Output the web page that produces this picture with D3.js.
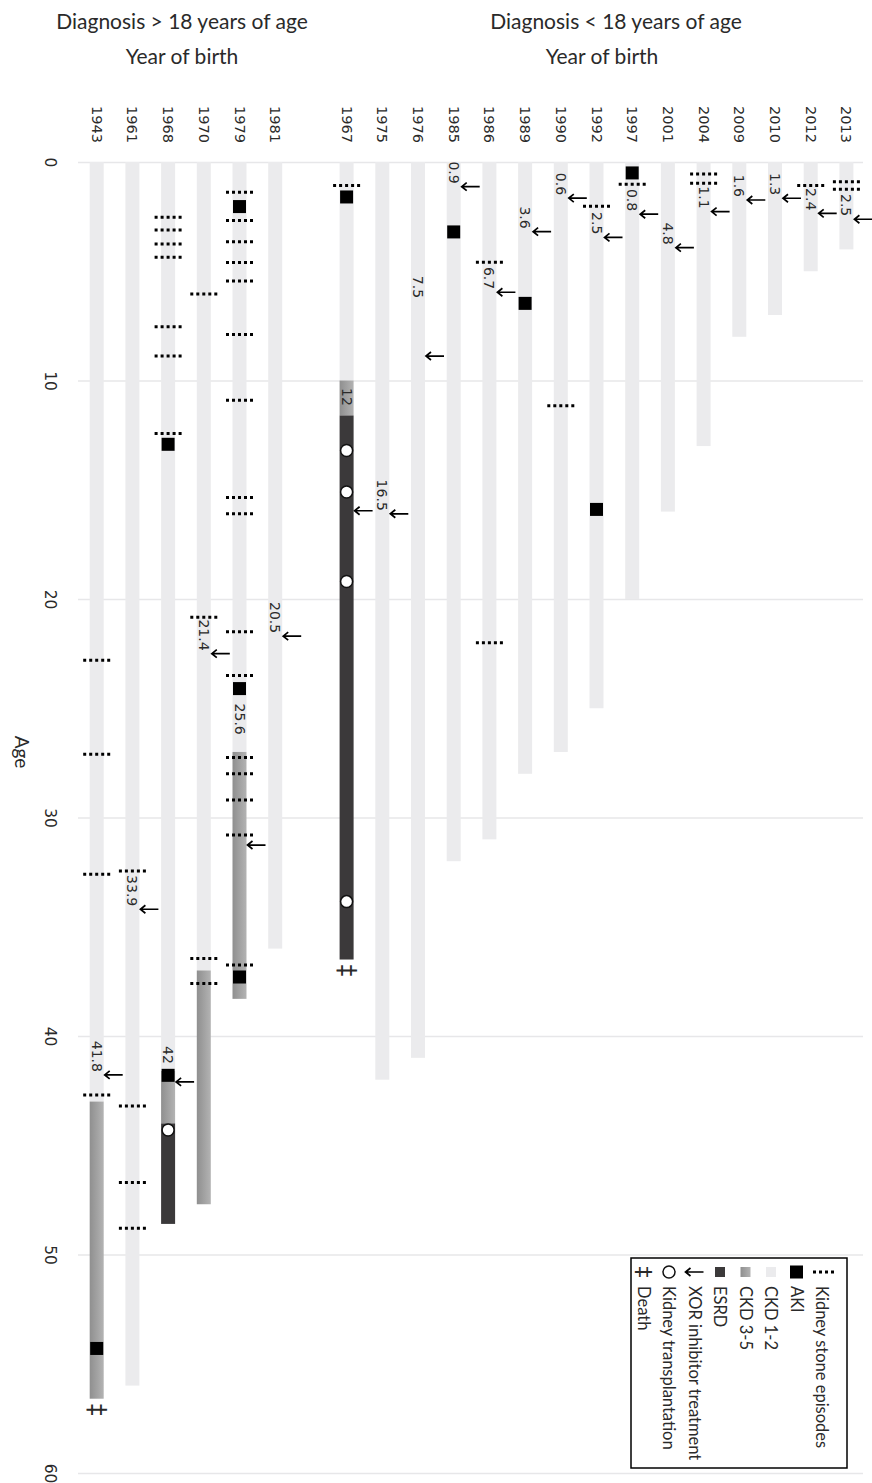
<!DOCTYPE html>
<html>
<head>
<meta charset="utf-8">
<script src="https://cdn.jsdelivr.net/npm/d3@7/dist/d3.min.js"></script>
<style>
body { margin: 0; background: #fff; }
svg text { font-family: "DejaVu Sans", sans-serif; fill: #2a2a2a; }
svg text.cal { font-family: Lato, "Open Sans", sans-serif; }
</style>
</head>
<body>
<svg id="chart" width="872" height="1483"></svg>
<script>
// patients, by year of birth
var leftYears = ["1943", "1961", "1968", "1970", "1979", "1981"];
var rightYears = ["1967", "1975", "1976", "1985", "1986", "1989", "1990", "1992", "1997",
  "2001", "2004", "2009", "2010", "2012", "2013"];
var ageTicks = [0, 10, 20, 30, 40, 50, 60];

// [year, stage, from age, to age]
var stages = [
  ["1943", "CKD 1-2", 0, 43.0], ["1943", "CKD 3-5", 43.0, 56.6],
  ["1961", "CKD 1-2", 0, 56.0],
  ["1968", "CKD 1-2", 0, 41.6], ["1968", "CKD 3-5", 41.6, 44.0], ["1968", "ESRD", 44.0, 48.6],
  ["1970", "CKD 1-2", 0, 37.0], ["1970", "CKD 3-5", 37.0, 47.7],
  ["1979", "CKD 1-2", 0, 27.0], ["1979", "CKD 3-5", 27.0, 38.3],
  ["1981", "CKD 1-2", 0, 36.0],
  ["1967", "CKD 1-2", 0, 10.0], ["1967", "CKD 3-5", 10.0, 11.6], ["1967", "ESRD", 11.6, 36.5],
  ["1975", "CKD 1-2", 0, 42.0],
  ["1976", "CKD 1-2", 0, 41.0],
  ["1985", "CKD 1-2", 0, 32.0],
  ["1986", "CKD 1-2", 0, 31.0],
  ["1989", "CKD 1-2", 0, 28.0],
  ["1990", "CKD 1-2", 0, 27.0],
  ["1992", "CKD 1-2", 0, 25.0],
  ["1997", "CKD 1-2", 0, 20.0],
  ["2001", "CKD 1-2", 0, 16.0],
  ["2004", "CKD 1-2", 0, 13.0],
  ["2009", "CKD 1-2", 0, 8.0],
  ["2010", "CKD 1-2", 0, 7.0],
  ["2012", "CKD 1-2", 0, 5.0],
  ["2013", "CKD 1-2", 0, 4.0]
];

// kidney stone episodes [year, age]
var stones = [
  ["1943", 22.8], ["1943", 27.1], ["1943", 32.6], ["1943", 42.7],
  ["1961", 32.45], ["1961", 43.2], ["1961", 46.7], ["1961", 48.8],
  ["1968", 2.53], ["1968", 3.11], ["1968", 3.75], ["1968", 4.36], ["1968", 7.54], ["1968", 8.88], ["1968", 12.42],
  ["1970", 6.04], ["1970", 20.84], ["1970", 36.45], ["1970", 37.6],
  ["1979", 1.39], ["1979", 2.68], ["1979", 3.65], ["1979", 4.6], ["1979", 5.45], ["1979", 7.9],
  ["1979", 10.9], ["1979", 15.36], ["1979", 16.1], ["1979", 21.5], ["1979", 23.5], ["1979", 27.25],
  ["1979", 28.0], ["1979", 29.2], ["1979", 30.8], ["1979", 36.75],
  ["1967", 1.08],
  ["1986", 4.59], ["1986", 22.0],
  ["1990", 11.15],
  ["1992", 2.02],
  ["1997", 1.02],
  ["2004", 0.55], ["2004", 0.97],
  ["2012", 1.08],
  ["2013", 0.9], ["2013", 1.25]
];

// acute kidney injury [year, age]
var aki = [
  ["1943", 54.3], ["1968", 12.92], ["1968", 41.8],
  ["1979", 2.04], ["1979", 24.1], ["1979", 37.3],
  ["1967", 1.6], ["1985", 3.2], ["1989", 6.47], ["1992", 15.9], ["1997", 0.5]
];

// XOR inhibitor start [year, arrow age, label, label centre age (optional)]
var xor = [
  ["1943", 41.78, "41.8"], ["1961", 34.2, "33.9"], ["1968", 42.1, "42", 40.87],
  ["1970", 22.5, "21.4"], ["1979", 31.26, "25.6", 25.5], ["1981", 21.7, "20.5"],
  ["1967", 15.96, "12", 10.75], ["1975", 16.1, "16.5"], ["1976", 8.88, "7.5", 5.72],
  ["1985", 1.13, "0.9"], ["1986", 5.96, "6.7"], ["1989", 3.19, "3.6"], ["1990", 1.65, "0.6"],
  ["1992", 3.45, "2.5"], ["1997", 2.39, "0.8"], ["2001", 3.92, "4.8"], ["2004", 2.27, "1.1"],
  ["2009", 1.74, "1.6"], ["2010", 1.66, "1.3"], ["2012", 2.35, "2.4"], ["2013", 2.62, "2.5"]
];

var transplants = [["1967", 13.2], ["1967", 15.1], ["1967", 19.2], ["1967", 33.85], ["1968", 44.3]];
var deaths = [["1943", 57.1], ["1967", 37.0]];

var legendItems = ["Kidney stone episodes", "AKI", "CKD 1-2", "CKD 3-5", "ESRD",
  "XOR inhibitor treatment", "Kidney transplantation", "Death"];

var stageFill = { "CKD 1-2": "#ebebed", "CKD 3-5": "url(#ckd35)", "ESRD": "#3b393a" };

var svg = d3.select("#chart");
var x = d3.scalePoint().domain(leftYears.concat(["gap"], rightYears)).range([78.85, 864.25]).padding(0.5);
var y = d3.scaleLinear().domain([0, 60]).range([162, 1473]);
var barW = 14;

var grad = svg.append("defs").append("linearGradient").attr("id", "ckd35")
  .attr("x1", 0).attr("x2", 1).attr("y1", 0).attr("y2", 0);
grad.append("stop").attr("offset", "0%").attr("stop-color", "#8f8f8f");
grad.append("stop").attr("offset", "100%").attr("stop-color", "#b3b3b3");

// titles
function title(tx, ty, s){
  svg.append("text").attr("class", "cal").attr("x", tx).attr("y", ty).attr("text-anchor", "middle")
    .attr("dominant-baseline", "central").style("font-size", "21px").attr("fill", "#1e1e1e").text(s);
}
title(182, 20, "Diagnosis > 18 years of age");
title(182, 55, "Year of birth");
title(616, 20, "Diagnosis < 18 years of age");
title(602, 55, "Year of birth");

// age grid + ticks
var gAxis = svg.append("g").attr("transform", "translate(78,0)")
  .call(d3.axisLeft(y).tickValues(ageTicks).tickSize(-(863 - 78)).tickPadding(0));
gAxis.select(".domain").remove();
gAxis.selectAll(".tick line").attr("stroke", "#e7e7e9").attr("stroke-width", 1.5);
gAxis.selectAll(".tick text")
  .attr("x", null).attr("dy", null)
  .attr("transform", "translate(-28,0) rotate(90)")
  .attr("text-anchor", "middle").attr("dominant-baseline", "central")
  .style("font-size", "15.5px").style("font-family", "'DejaVu Sans', sans-serif").attr("fill", "#2a2a2a");

svg.append("text").attr("class", "cal").attr("transform", "translate(22,752) rotate(90)")
  .attr("text-anchor", "middle").attr("dominant-baseline", "central").style("font-size", "19px").text("Age");

// year labels
svg.append("g").selectAll("text").data(leftYears.concat(rightYears)).join("text")
  .attr("transform", function(d){ return "translate(" + x(d) + ",106) rotate(90)"; })
  .attr("dominant-baseline", "central").style("font-size", "14.5px").attr("fill", "#222")
  .text(function(d){ return d; });

// disease course bars
svg.append("g").selectAll("rect").data(stages).join("rect")
  .attr("x", function(d){ return x(d[0]) - barW / 2; })
  .attr("width", barW)
  .attr("y", function(d){ return y(d[2]); })
  .attr("height", function(d){ return y(d[3]) - y(d[2]); })
  .attr("fill", function(d){ return stageFill[d[1]]; });

// stones
svg.append("g").selectAll("line").data(stones).join("line")
  .attr("x1", function(d){ return x(d[0]) - 13.5; })
  .attr("x2", function(d){ return x(d[0]) + 13.5; })
  .attr("y1", function(d){ return y(d[1]); })
  .attr("y2", function(d){ return y(d[1]); })
  .attr("stroke", "#000").attr("stroke-width", 3).attr("stroke-dasharray", "3,3");

// AKI
svg.append("g").selectAll("rect").data(aki).join("rect")
  .attr("x", function(d){ return x(d[0]) - 6.5; })
  .attr("y", function(d){ return y(d[1]) - 6.5; })
  .attr("width", 13).attr("height", 13).attr("fill", "#000");

// XOR inhibitor arrows + labels
function arrowPath(cx, cy, len){
  var x0 = cx - len / 2, x1 = cx + len / 2;
  return "M" + x1 + "," + cy + "H" + x0 + "M" + (x0 + 5) + "," + (cy - 4) + "L" + x0 + "," + cy + "L" + (x0 + 5) + "," + (cy + 4);
}
var gx = svg.append("g");
gx.selectAll("path").data(xor).join("path")
  .attr("d", function(d){ return arrowPath(x(d[0]) + 17, y(d[1]), 18); })
  .attr("fill", "none").attr("stroke", "#000").attr("stroke-width", 1.7);
gx.selectAll("text").data(xor).join("text")
  .attr("transform", function(d){
    var yy = d[3] != null ? y(d[3]) : y(d[1]) - 3;
    return "translate(" + x(d[0]) + "," + yy + ") rotate(90)";
  })
  .attr("text-anchor", function(d){ return d[3] != null ? "middle" : "end"; })
  .attr("dominant-baseline", "central").style("font-size", "14px").attr("fill", "#1e1e1e")
  .text(function(d){ return d[2]; });

// transplantation
svg.append("g").selectAll("circle").data(transplants).join("circle")
  .attr("cx", function(d){ return x(d[0]); }).attr("cy", function(d){ return y(d[1]); })
  .attr("r", 6).attr("fill", "#fff").attr("stroke", "#111").attr("stroke-width", 1.5);

// death
svg.append("g").selectAll("text").data(deaths).join("text")
  .attr("transform", function(d){ return "translate(" + x(d[0]) + "," + y(d[1]) + ") rotate(90)"; })
  .attr("text-anchor", "middle").attr("dominant-baseline", "central")
  .style("font-size", "24px").attr("fill", "#000").text("\u2021");

// legend
var lg = svg.append("g");
lg.append("rect").attr("x", 631).attr("y", 1258).attr("width", 216).attr("height", 210)
  .attr("fill", "#fff").attr("stroke", "#000").attr("stroke-width", 1.5);
var lx = d3.scalePoint().domain(legendItems).range([822, 643.5]);
var symY = 1272;
legendItems.forEach(function(name){
  var cx = lx(name);
  if (name === "Kidney stone episodes") {
    lg.append("line").attr("x1", cx - 9).attr("x2", cx + 12).attr("y1", symY).attr("y2", symY)
      .attr("stroke", "#000").attr("stroke-width", 3).attr("stroke-dasharray", "3,3");
  } else if (name === "AKI") {
    lg.append("rect").attr("x", cx - 6.5).attr("y", symY - 6.5).attr("width", 13).attr("height", 13).attr("fill", "#000");
  } else if (stageFill[name]) {
    lg.append("rect").attr("x", cx - 5).attr("y", symY - 5).attr("width", 10).attr("height", 10).attr("fill", stageFill[name]);
  } else if (name === "XOR inhibitor treatment") {
    lg.append("path").attr("d", arrowPath(cx, symY, 18)).attr("fill", "none").attr("stroke", "#000").attr("stroke-width", 1.7);
  } else if (name === "Kidney transplantation") {
    lg.append("circle").attr("cx", cx).attr("cy", symY).attr("r", 6).attr("fill", "#fff").attr("stroke", "#111").attr("stroke-width", 1.5);
  } else {
    lg.append("text").attr("transform", "translate(" + cx + "," + symY + ") rotate(90)")
      .attr("text-anchor", "middle").attr("dominant-baseline", "central")
      .style("font-size", "22px").attr("fill", "#000").text("\u2021");
  }
  lg.append("text").attr("class", "cal")
    .attr("transform", "translate(" + cx + ",1286) rotate(90)")
    .attr("dominant-baseline", "central").style("font-size", "16.5px").attr("fill", "#111")
    .text(name);
});
</script>
</body>
</html>
